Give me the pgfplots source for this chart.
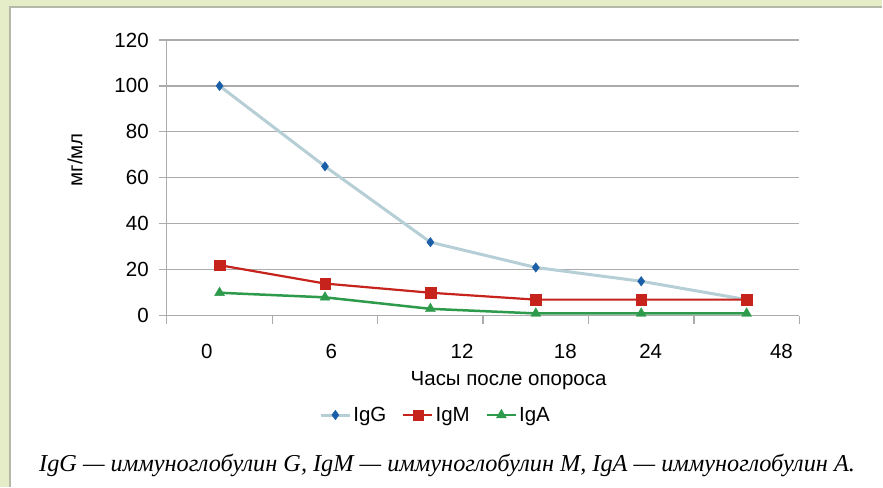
\documentclass[border=0pt]{standalone}
\usepackage{pgfplots}
\pgfplotsset{compat=1.18}
\usepackage{fontspec}
\setmainfont{Liberation Sans}
\newfontfamily\capfont{Liberation Serif}
\definecolor{bgG}{HTML}{E4EDC8}
\definecolor{frameC}{HTML}{B4B8A8}
\definecolor{gridC}{HTML}{ABABAB}
\definecolor{igGline}{HTML}{B6CFD6}
\definecolor{igGmark}{HTML}{1B5EA8}
\definecolor{igM}{HTML}{C6231D}
\definecolor{igA}{HTML}{2E9A4C}
\newcommand{\chf}{\fontsize{20.5}{24}\selectfont}
\begin{document}
\begin{tikzpicture}[x=1pt,y=1pt]
\fill[bgG] (0,0) rectangle (883,487);
\fill[white] (10,0) rectangle (883,480);
\draw[frameC, line width=1.5pt] (10,0) -- (10,480) -- (883,480);
\useasboundingbox (0,0) rectangle (883,487);
\begin{axis}[
  at={(167pt,171pt)}, anchor=south west,
  scale only axis, width=633pt, height=276pt,
  xmin=0, xmax=6, ymin=0, ymax=120,
  axis x line*=bottom, axis y line*=left,
  axis line style={gridC, line width=1.2pt},
  xtick={0,1,2,3,4,5,6}, xticklabels={},
  ytick={0,20,40,60,80,100,120},
  tick align=outside,
  major tick length=8pt,
  tick style={gridC, line width=1.2pt},
  ymajorgrids, grid style={gridC, line width=1.2pt},
  /pgf/number format/assume math mode=true,
  ticklabel style={font=\chf},
  yticklabel style={anchor=east, inner sep=0pt, xshift=-10pt},
  extra x ticks={0.38,1.56,2.80,3.78,4.59,5.83},
  extra x tick labels={0,6,12,18,24,48},
  extra x tick style={major tick length=0pt, xticklabel style={anchor=base, yshift=-43pt}},
  legend columns=3,
  legend style={at={(0.425,-0.36)}, anchor=center, draw=none, fill=none, font=\chf,
    inner sep=0pt,
    /tikz/every even column/.append style={column sep=14pt}},
  legend cell align=left,
  legend image code/.code={\draw[mark repeat=2,mark phase=2] plot coordinates {(0pt,0pt)(14.5pt,0pt)(29pt,0pt)};},
  clip=false,
]
\addplot[igGline, line width=3pt, mark=diamond*, mark size=4.8pt, mark options={fill=igGmark, draw=igGmark, line width=0.3pt}]
  coordinates {(0.5,100) (1.5,65) (2.5,32) (3.5,21) (4.5,15) (5.5,7)};
\addlegendentry{IgG}
\addplot[igM, line width=2.2pt, mark=square*, mark size=5.3pt, mark options={fill=igM, draw=igM, line width=0.3pt}]
  coordinates {(0.5,22) (1.5,14) (2.5,10) (3.5,7) (4.5,7) (5.5,7)};
\addlegendentry{IgM}
\addplot[igA, line width=2.5pt, mark=triangle*, mark size=5.8pt, mark options={fill=igA, draw=igA, line width=0.3pt}]
  coordinates {(0.5,10) (1.5,8) (2.5,3) (3.5,1) (4.5,1) (5.5,1)};
\addlegendentry{IgA}
\end{axis}
\node[font=\chf, rotate=90] at (75,327) {мг/мл};
\node[font=\chf] at (509,106) {Часы после опороса};
\node[font=\capfont\itshape\fontsize{24.3}{28}\selectfont, anchor=base] at (447.5,15) {IgG — иммуноглобулин G, IgM — иммуноглобулин M, IgA — иммуноглобулин A.};
\end{tikzpicture}
\end{document}
